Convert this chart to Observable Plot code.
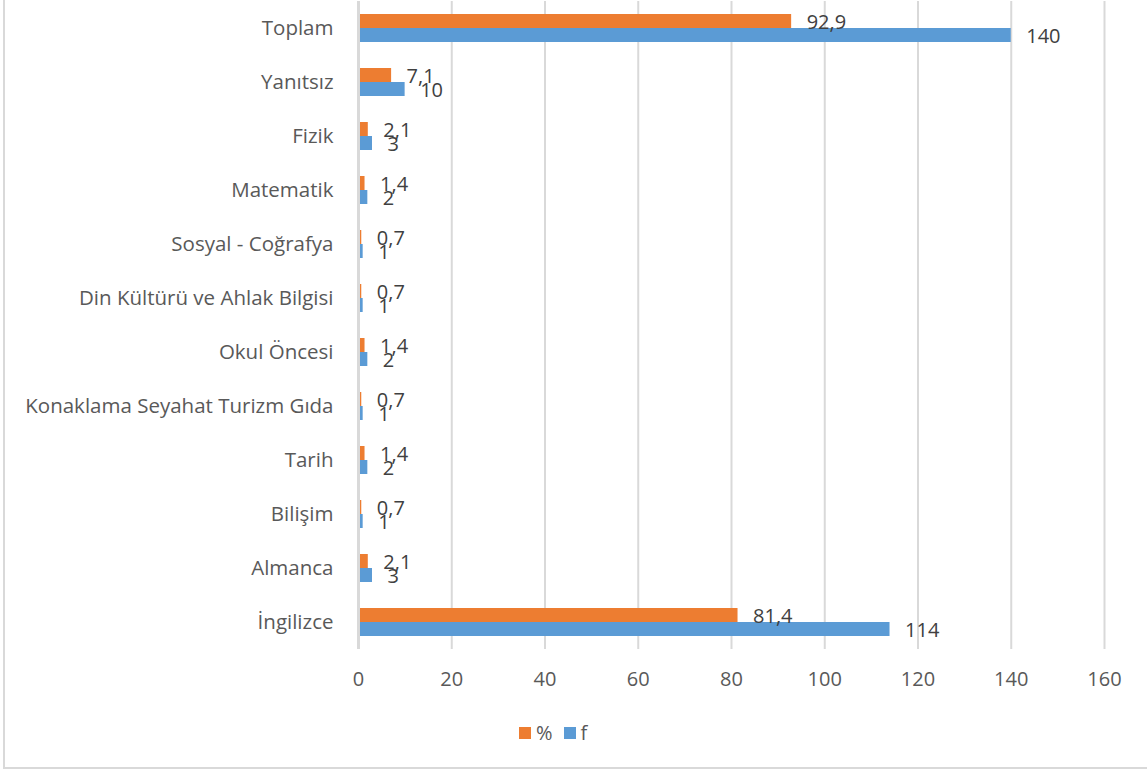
<!DOCTYPE html>
<html>
<head>
<meta charset="utf-8">
<script src="https://cdn.jsdelivr.net/npm/d3@7"></script>
<script src="https://cdn.jsdelivr.net/npm/@observablehq/plot@0.6"></script>
<style>
  html, body { margin: 0; padding: 0; background: #fff; overflow: hidden; }
  body { width: 1147px; height: 773px; position: relative; font-family: "Open Sans", sans-serif; }
  #frame { position: absolute; left: 3px; top: -10px; width: 1200px; height: 779px; border: 2px solid #d9d9d9; box-sizing: border-box; }
  #chart { position: absolute; left: 0; top: 0; }
  #legend { position: absolute; top: 719px; left: 519px; display: flex; align-items: center; font-size: 20px; color: #595959; }
  .sw { width: 12px; height: 12px; display: inline-block; margin-right: 5px; }
  .item { display: flex; align-items: center; margin-right: 11px; }
</style>
</head>
<body>
<div id="frame"></div>
<div id="chart"></div>
<div id="legend"></div>
<script>
const categories = ["Toplam", "Yanıtsız", "Fizik", "Matematik", "Sosyal - Coğrafya", "Din Kültürü ve Ahlak Bilgisi", "Okul Öncesi", "Konaklama Seyahat Turizm Gıda", "Tarih", "Bilişim", "Almanca", "İngilizce"];
const pct = [92.9, 7.1, 2.1, 1.4, 0.7, 0.7, 1.4, 0.7, 1.4, 0.7, 2.1, 81.4];
const freq = [140, 10, 3, 2, 1, 1, 2, 1, 2, 1, 3, 114];
const xTicks = [0, 20, 40, 60, 80, 100, 120, 140, 160];
const seriesNames = ["%", "f"];
const seriesColors = ["#ED7D31", "#5B9BD5"];

const pctData = categories.map((c, i) => ({cat: c, v: pct[i]}));
const fData = categories.map((c, i) => ({cat: c, v: freq[i]}));
const fmt = v => String(v).replace(".", ",");

const chart = Plot.plot({
  width: 1147,
  height: 700,
  marginLeft: 358,
  marginRight: 43,
  marginTop: 1,
  marginBottom: 51,
  style: {fontFamily: "Open Sans", fontSize: "20px", background: "transparent"},
  x: {domain: [0, 160], axis: null},
  y: {domain: categories, padding: 0, axis: null},
  marks: [
    Plot.ruleX(xTicks.filter(d => d !== 0), {stroke: "#d9d9d9", strokeWidth: 2}),
    Plot.barX(pctData, {x: "v", y: "cat", fill: seriesColors[0], insetTop: 13, insetBottom: 27}),
    Plot.barX(fData, {x: "v", y: "cat", fill: seriesColors[1], insetTop: 27, insetBottom: 13}),
    Plot.ruleX([0], {stroke: "#d9d9d9", strokeWidth: 3}),
    Plot.text(pctData, {x: "v", y: "cat", text: d => fmt(d.v), dx: 15, dy: -6, textAnchor: "start", fill: "#404040", fontSize: 20}),
    Plot.text(fData, {x: "v", y: "cat", text: d => fmt(d.v), dx: 15, dy: 8, textAnchor: "start", fill: "#404040", fontSize: 20}),
    Plot.axisX(xTicks, {tickSize: 0, tickPadding: 22, fontSize: 20, color: "#595959", tickFormat: d => String(d), label: null}),
    Plot.axisY({tickSize: 0, tickPadding: 25, fontSize: 20.5, color: "#595959", label: null})
  ]
});
document.getElementById("chart").appendChild(chart);

const legend = document.getElementById("legend");
seriesNames.forEach((n, i) => {
  const it = document.createElement("span");
  it.className = "item";
  it.innerHTML = `<span class="sw" style="background:${seriesColors[i]}"></span><span>${n}</span>`;
  legend.appendChild(it);
});
</script>
</body>
</html>
